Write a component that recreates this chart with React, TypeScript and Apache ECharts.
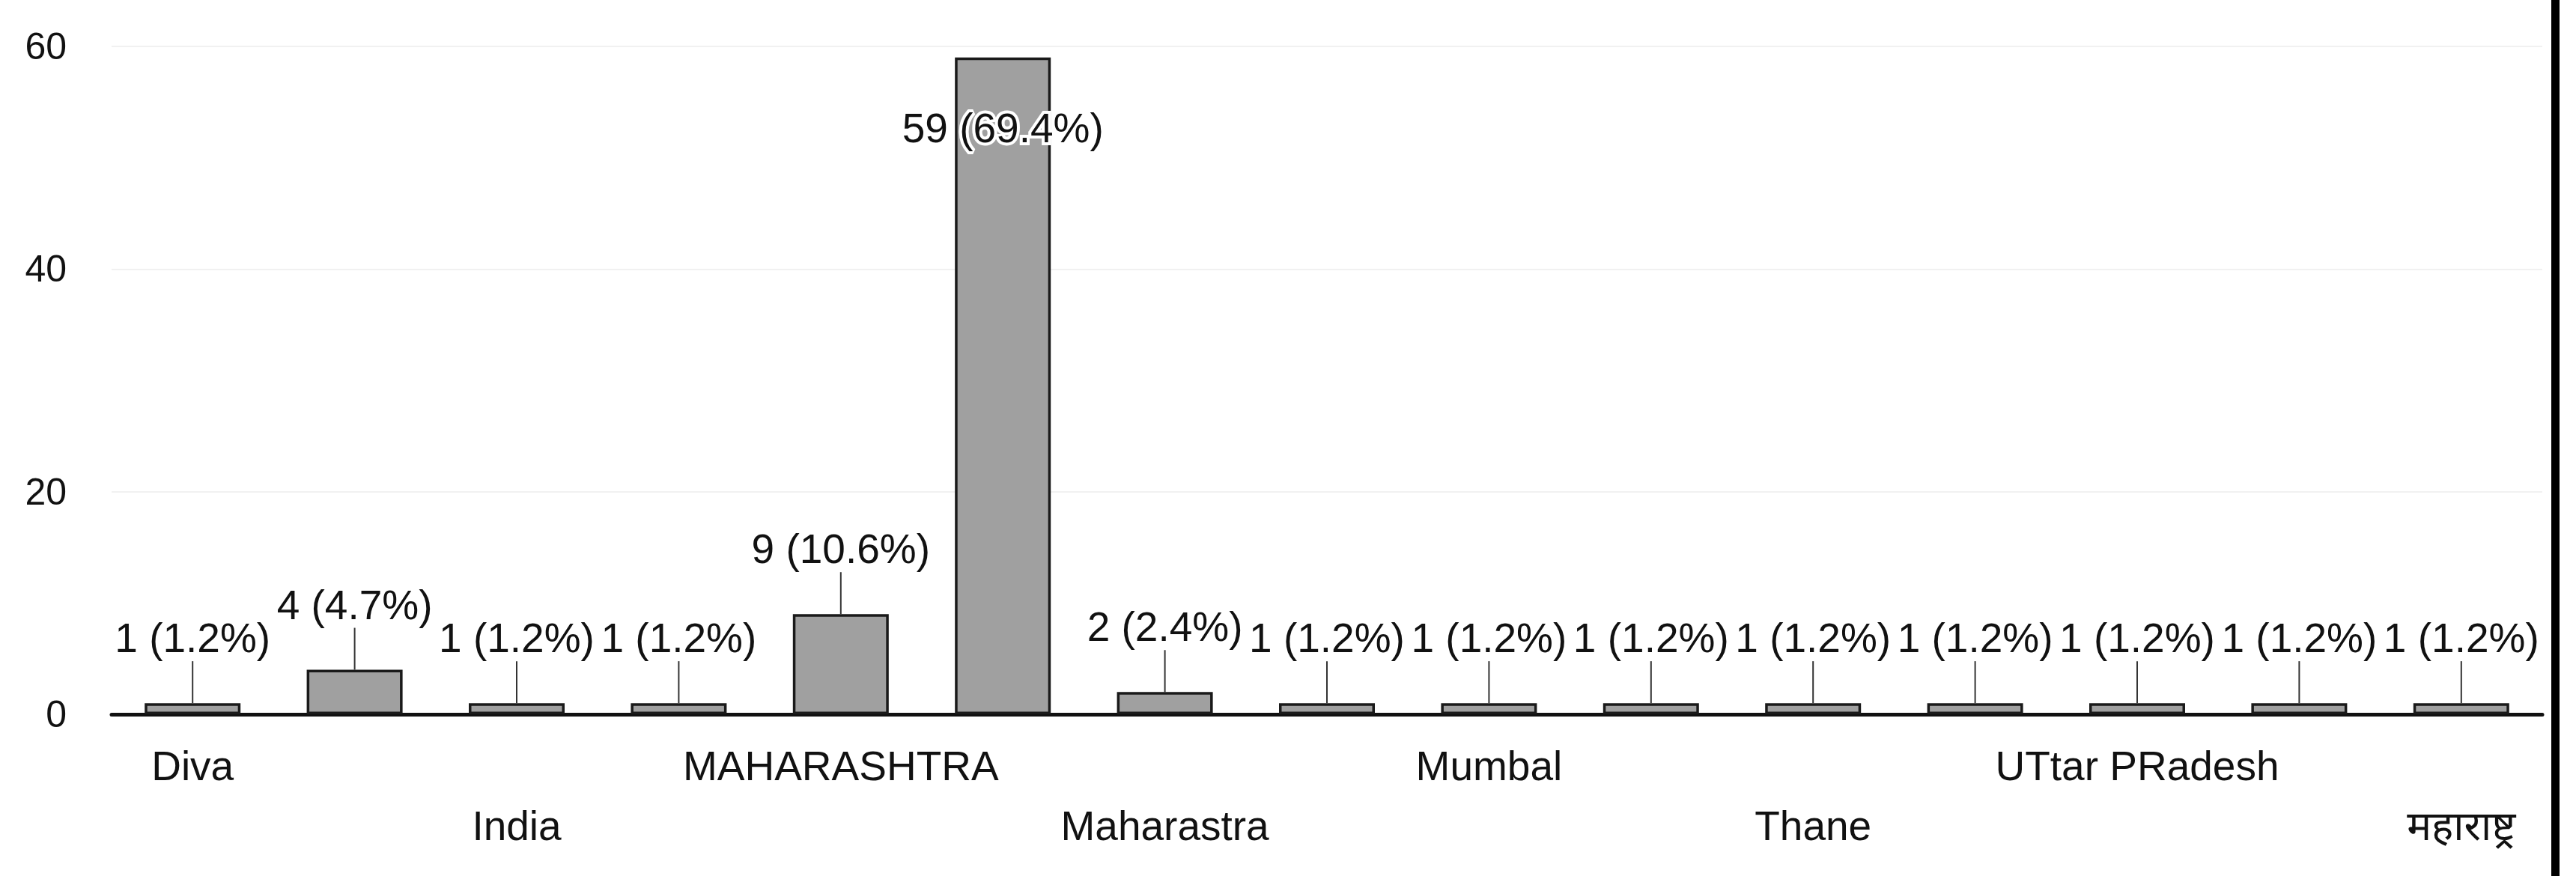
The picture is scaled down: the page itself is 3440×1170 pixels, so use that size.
import React, { useEffect, useRef } from "react";
import * as echarts from "echarts";

const categories: string[] = [
  "Diva",
  "Dombivli",
  "India",
  "Kalyan",
  "MAHARASHTRA",
  "Maharashtra",
  "Maharastra",
  "Mumbai",
  "Mumbal",
  "Navi Mumbai",
  "Thane",
  "Thane West",
  "UTtar PRadesh",
  "Varanasi",
  "महाराष्ट्र",
];

const counts: number[] = [1, 4, 1, 1, 9, 59, 2, 1, 1, 1, 1, 1, 1, 1, 1];

const yTicks: number[] = [0, 20, 40, 60];

const FONT = "'Liberation Sans', Arial, 'Noto Sans', sans-serif";

export default function App() {
  const ref = useRef<HTMLDivElement>(null);

  useEffect(() => {
    if (!ref.current) return;
    const chart = echarts.init(ref.current, undefined, { renderer: "svg" });
    const total = counts.reduce((a, b) => a + b, 0);

    const option: any = {
      animation: false,
      backgroundColor: "#ffffff",
      textStyle: { fontFamily: FONT },
      grid: { left: 149, right: 45, top: 62, bottom: 216, containLabel: false },
      xAxis: {
        type: "category",
        data: categories,
        axisTick: { show: false },
        axisLine: { show: true, lineStyle: { color: "#111111", width: 5 } },
        axisLabel: {
          interval: 1,
          margin: 29,
          fontSize: 55,
          lineHeight: 80,
          color: "#111111",
          fontFamily: FONT,
          formatter: (v: string, idx: number) => (idx % 4 === 2 ? "\n" + v : v),
        },
        splitLine: { show: false },
      },
      yAxis: {
        type: "value",
        min: yTicks[0],
        max: yTicks[yTicks.length - 1],
        interval: yTicks[1] - yTicks[0],
        axisLine: { show: false },
        axisTick: { show: false },
        axisLabel: { fontSize: 50, color: "#111111", margin: 60, fontFamily: FONT },
        splitLine: { show: true, lineStyle: { color: "#f1f1f1", width: 2 } },
      },
      series: [
        {
          type: "bar",
          data: counts,
          barWidth: 128,
          itemStyle: { color: "#a0a0a0", borderColor: "#1a1a1a", borderWidth: 3.5 },
          z: 2,
        },
        {
          type: "custom",
          data: counts.map((v, i) => [i, v]),
          encode: { x: 0, y: 1 },
          z: 5,
          renderItem: (params: any, api: any) => {
            const i = api.value(0);
            const v = api.value(1);
            const pt = api.coord([i, v]);
            const x = pt[0];
            const yTop = pt[1];
            const pct = ((v / total) * 100).toFixed(1);
            const text = `${v} (${pct}%)`;
            const inside = yTop - 125 < 0;
            const children: any[] = [];
            if (!inside) {
              children.push({
                type: "line",
                shape: { x1: x, y1: yTop, x2: x, y2: yTop - 56 },
                style: { stroke: "#333333", lineWidth: 2 },
              });
              children.push({
                type: "text",
                x: x,
                y: yTop - 87,
                style: {
                  text,
                  fill: "#111111",
                  font: `55px ${FONT}`,
                  align: "center",
                  verticalAlign: "middle",
                },
              });
            } else {
              children.push({
                type: "text",
                x: x,
                y: yTop + 94,
                style: {
                  text,
                  fill: "#111111",
                  font: `55px ${FONT}`,
                  align: "center",
                  verticalAlign: "middle",
                  stroke: "#ffffff",
                  lineWidth: 8,
                },
              });
            }
            return { type: "group", children };
          },
        },
      ],
      graphic: [
        {
          type: "rect",
          shape: { x: 3407, y: 0, width: 11, height: 1170 },
          style: { fill: "#000000" },
          z: 100,
        },
      ],
    };

    chart.setOption(option);
    return () => chart.dispose();
  }, []);

  return (
    <div
      ref={ref}
      style={{ position: "fixed", left: 0, top: 0, width: 3440, height: 1170, background: "#fff" }}
    />
  );
}
